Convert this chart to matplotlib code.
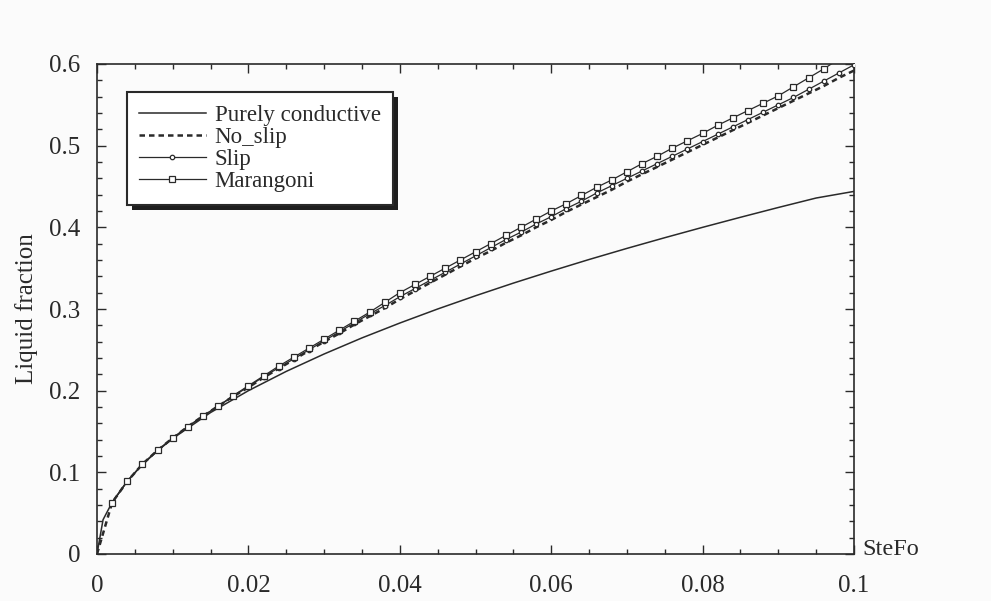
import matplotlib
matplotlib.use("Agg")
import matplotlib.pyplot as plt
from matplotlib.patches import Rectangle
from matplotlib.ticker import MultipleLocator

plt.rcParams['font.family'] = ['Liberation Serif', 'DejaVu Serif']

# ---- data ----
x_cond = [0, 0.0008, 0.002, 0.004, 0.006, 0.008, 0.01, 0.015, 0.02, 0.025, 0.03,
          0.035, 0.04, 0.045, 0.05, 0.055, 0.06, 0.065, 0.07, 0.075, 0.08, 0.085,
          0.09, 0.095, 0.1]
y_cond = [0, 0.042, 0.0632, 0.0894, 0.1095, 0.1265, 0.1414, 0.1732, 0.2, 0.2236,
          0.2449, 0.2646, 0.2828, 0.300, 0.3162, 0.3317, 0.3464, 0.3606, 0.3742,
          0.3873, 0.400, 0.4123, 0.4243, 0.4359, 0.4440]

x_conv = [0, 0.002, 0.004, 0.006, 0.008, 0.010, 0.012, 0.014, 0.016, 0.018, 0.020,
          0.022, 0.024, 0.026, 0.028, 0.030, 0.032, 0.034, 0.036, 0.038, 0.040,
          0.042, 0.044, 0.046, 0.048, 0.050, 0.052, 0.054, 0.056, 0.058, 0.060,
          0.062, 0.064, 0.066, 0.068, 0.070, 0.072, 0.074, 0.076, 0.078, 0.080,
          0.082, 0.084, 0.086, 0.088, 0.090, 0.092, 0.094, 0.096, 0.098, 0.100]

y_marangoni = [0, 0.063, 0.089, 0.110, 0.127, 0.142, 0.156, 0.169, 0.181, 0.194, 0.206,
               0.218, 0.230, 0.241, 0.252, 0.263, 0.274, 0.285, 0.296, 0.308, 0.320,
               0.330, 0.340, 0.350, 0.360, 0.370, 0.380, 0.390, 0.400, 0.410, 0.420,
               0.429, 0.439, 0.449, 0.458, 0.468, 0.478, 0.487, 0.497, 0.506, 0.515,
               0.525, 0.534, 0.543, 0.552, 0.561, 0.572, 0.583, 0.594, 0.606, 0.618]

y_slip = [0, 0.063, 0.089, 0.110, 0.127, 0.142, 0.156, 0.169, 0.181, 0.193, 0.205,
          0.217, 0.228, 0.239, 0.250, 0.261, 0.272, 0.283, 0.294, 0.304, 0.315,
          0.325, 0.335, 0.345, 0.355, 0.365, 0.375, 0.385, 0.394, 0.404, 0.413,
          0.423, 0.432, 0.442, 0.451, 0.460, 0.469, 0.478, 0.487, 0.496, 0.505,
          0.514, 0.523, 0.532, 0.541, 0.550, 0.559, 0.569, 0.579, 0.589, 0.599]

y_noslip = [0, 0.063, 0.089, 0.110, 0.127, 0.142, 0.156, 0.169, 0.181, 0.193, 0.204,
            0.216, 0.227, 0.238, 0.249, 0.260, 0.270, 0.281, 0.291, 0.301, 0.312,
            0.322, 0.332, 0.342, 0.352, 0.362, 0.371, 0.381, 0.390, 0.400, 0.409,
            0.419, 0.428, 0.437, 0.446, 0.456, 0.465, 0.474, 0.483, 0.492, 0.501,
            0.510, 0.519, 0.528, 0.537, 0.546, 0.555, 0.564, 0.573, 0.583, 0.592]

x_ticks = [0, 0.02, 0.04, 0.06, 0.08, 0.1]
x_ticklabels = ['0', '0.02', '0.04', '0.06', '0.08', '0.1']
y_ticks = [0, 0.1, 0.2, 0.3, 0.4, 0.5, 0.6]
y_ticklabels = ['0', '0.1', '0.2', '0.3', '0.4', '0.5', '0.6']
labels = ['Purely conductive', 'No_slip', 'Slip', 'Marangoni']

# ---- figure ----
fig = plt.figure(figsize=(9.91, 6.01), dpi=100, facecolor='#fbfbfb')
ax = fig.add_axes([97/991, 1 - 554/601, (854 - 97)/991, (554 - 64)/601])
ax.set_facecolor('#fbfbfb')

lc = '#2a2a2a'
ax.plot(x_cond, y_cond, color=lc, lw=1.1, label=labels[0], zorder=3)
ax.plot(x_conv, y_noslip, color=lc, lw=1.8, linestyle=(0, (2.2, 1.6)),
        label=labels[1], zorder=3)
ax.plot(x_conv[1:], y_slip[1:], color=lc, lw=0.9, marker='o', markersize=3.2,
        markerfacecolor='white', markeredgecolor=lc, markeredgewidth=0.9,
        label=labels[2], zorder=4)
ax.plot(x_conv[1:], y_marangoni[1:], color=lc, lw=0.9, marker='s', markersize=4.2,
        markerfacecolor='white', markeredgecolor=lc, markeredgewidth=0.9,
        label=labels[3], zorder=5)

ax.set_xlim(0, 0.1)
ax.set_ylim(0, 0.6)
ax.set_xticks(x_ticks)
ax.set_xticklabels(x_ticklabels)
ax.set_yticks(y_ticks)
ax.set_yticklabels(y_ticklabels)
ax.xaxis.set_minor_locator(MultipleLocator(0.005))
ax.yaxis.set_minor_locator(MultipleLocator(0.02))
ax.tick_params(which='both', direction='in', top=True, right=True,
               labelsize=18, colors=lc, width=1.0)
ax.tick_params(which='major', length=6.5)
ax.tick_params(which='minor', length=3.3)
ax.tick_params(axis='x', which='major', pad=15)
ax.tick_params(axis='y', which='major', pad=12)
for s in ax.spines.values():
    s.set_linewidth(1.2)
    s.set_color(lc)

ax.set_ylabel('Liquid fraction', fontsize=18, color=lc, labelpad=8)
ax.text(1.011, 0.01, 'SteFo', transform=ax.transAxes, fontsize=17.5,
        color=lc, ha='left', va='center')

leg = ax.legend(loc='upper left', bbox_to_anchor=(0.039, 0.943), fontsize=16.5,
                frameon=True, fancybox=False, numpoints=1, handlelength=2.9,
                handletextpad=0.4, labelspacing=0.05, borderpad=0.55,
                borderaxespad=0.0)
leg.get_frame().set_edgecolor(lc)
leg.get_frame().set_linewidth(1.5)
leg.get_frame().set_facecolor('white')
leg.get_frame().set_alpha(1)
leg.set_zorder(10)
for t in leg.get_texts():
    t.set_color(lc)

fig.canvas.draw()
bb = leg.get_window_extent()
off = 5
shadow = Rectangle((bb.x0 + off, bb.y0 - off), bb.width, bb.height,
                   transform=None, facecolor='#1e1e1e', edgecolor='none', zorder=9)
ax.add_artist(shadow)
shadow.set_clip_on(False)

fig.savefig('out.png', dpi=100, facecolor=fig.get_facecolor())
